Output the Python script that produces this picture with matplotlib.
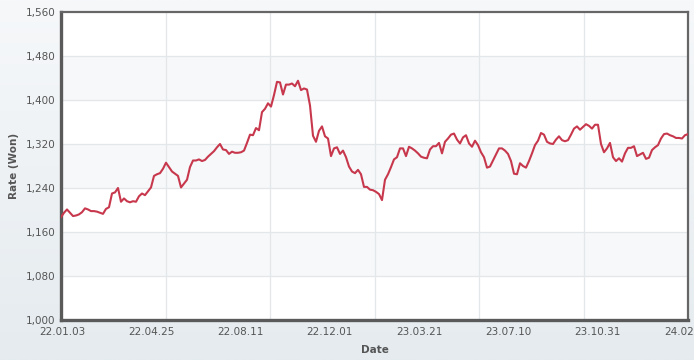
import numpy as np
import matplotlib
matplotlib.use("Agg")
import matplotlib.pyplot as plt
from matplotlib.colors import LinearSegmentedColormap

# KRW exchange rate (Won), sampled evenly over the period
rates = [
    1187, 1195, 1201, 1195, 1189, 1190, 1192, 1196, 1203, 1201,
    1198, 1198, 1197, 1195, 1193, 1202, 1205, 1230, 1232, 1240,
    1215, 1221, 1216, 1214, 1216, 1215, 1225, 1230, 1227, 1234,
    1241, 1262, 1265, 1267, 1275, 1286, 1278, 1270, 1266, 1262,
    1241, 1248, 1255, 1278, 1290, 1290, 1292, 1289, 1291, 1297,
    1302, 1307, 1314, 1320, 1310, 1309, 1302, 1306, 1304, 1304,
    1305, 1308, 1322, 1337, 1336, 1349, 1345, 1378, 1384, 1394,
    1388, 1409, 1433, 1432, 1410, 1428, 1428, 1430, 1425, 1435,
    1418, 1421, 1419, 1390, 1335, 1324, 1344, 1352, 1334, 1330,
    1298, 1312, 1314, 1302, 1308, 1296, 1279, 1270, 1267, 1273,
    1265, 1242, 1242, 1237, 1236, 1233, 1229, 1218, 1255, 1265,
    1278, 1292, 1296, 1312, 1312, 1298, 1315, 1312, 1308, 1303,
    1297, 1295, 1294, 1310, 1316, 1316, 1322, 1303, 1324, 1330,
    1337, 1339, 1328, 1321, 1332, 1336, 1321, 1315, 1326, 1318,
    1305, 1296, 1277, 1279, 1290, 1301, 1312, 1312, 1308, 1302,
    1289, 1266, 1265, 1285, 1280, 1277, 1289, 1303, 1318, 1326,
    1340, 1337, 1324, 1321, 1320, 1328, 1334, 1327, 1325, 1327,
    1337, 1348, 1352, 1346, 1351, 1356, 1353, 1348, 1355, 1355,
    1320, 1305, 1312, 1322, 1296, 1289, 1294, 1288, 1303, 1313,
    1313, 1316, 1298, 1301, 1304, 1293, 1295, 1309, 1314, 1318,
    1330, 1338, 1339, 1336, 1334, 1331, 1331, 1330, 1336, 1338,
]
date_labels = ["22.01.03", "22.04.25", "22.08.11", "22.12.01",
               "23.03.21", "23.07.10", "23.10.31", "24.02.20"]
y_ticks = [1000, 1080, 1160, 1240, 1320, 1400, 1480, 1560]
bands = [(1080, 1160), (1240, 1320), (1400, 1480)]

N = len(rates)
x = np.arange(N)

W, H = 694, 360
fig = plt.figure(figsize=(W / 100, H / 100), dpi=100)

# background gradient
bg = fig.add_axes([0, 0, 1, 1], zorder=-10)
grad = np.linspace(0, 1, 256).reshape(-1, 1)
cmap = LinearSegmentedColormap.from_list("bg", ["#f6f8fa", "#e5ebef"])
bg.imshow(grad, aspect="auto", cmap=cmap, extent=[0, 1, 0, 1])
bg.set_axis_off()

ax = fig.add_axes([61 / W, 40 / H, 627 / W, 308 / H])
ax.set_facecolor("white")

for lo, hi in bands:
    ax.axhspan(lo, hi, color="#f6f8fa", zorder=0, lw=0)

for yt in y_ticks[1:-1]:
    ax.axhline(yt, color="#e3e7ea", lw=0.9, zorder=1)
for k in range(1, 6):
    ax.axvline((N - 1) * k / 6, color="#e3e7ea", lw=0.9, zorder=1)

ax.plot(x, rates, color="#c8384d", lw=1.5, zorder=3, solid_joinstyle="round")

ax.set_xlim(0, N - 1)
ax.set_ylim(1000, 1560)

ax.set_yticks(y_ticks)
ax.set_yticklabels([f"{v:,}" for v in y_ticks])
step = (N - 1) * 89.3 / 627
ax.set_xticks([0.3 + i * step for i in range(len(date_labels))])
ax.set_xticklabels(date_labels)
ax.tick_params(axis="both", length=0, labelsize=7.5, labelcolor="#555555")
ax.tick_params(axis="y", pad=4)
ax.tick_params(axis="x", pad=5)
for lab in ax.get_xticklabels():
    lab.set_clip_on(False)

ax.set_xlabel("Date", fontsize=7.5, fontweight="bold", color="#555555", labelpad=6)
ax.set_ylabel("Rate (Won)", fontsize=7.5, fontweight="bold", color="#555555", labelpad=5)

for side in ["left", "bottom"]:
    ax.spines[side].set_linewidth(2.4)
    ax.spines[side].set_color("#5a5a5a")
for side in ["top", "right"]:
    ax.spines[side].set_linewidth(1.6)
    ax.spines[side].set_color("#666666")

fig.savefig("out.png", dpi=100)
